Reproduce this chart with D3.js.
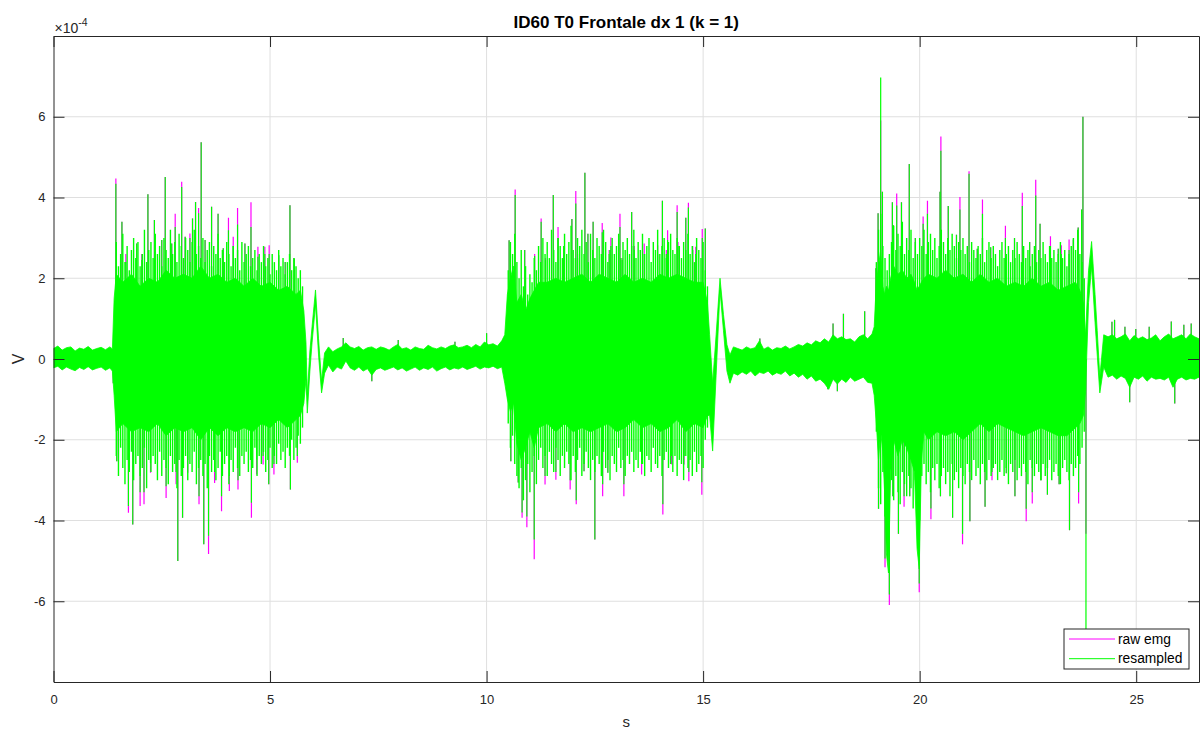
<!DOCTYPE html>
<html>
<head>
    <meta charset="utf-8">
    <title>ID60 T0 Frontale dx 1 (k = 1)</title>
    <script src="https://d3js.org/d3.v7.min.js"></script>
    <style>
        body { margin: 0; background: #fff; }
        svg text { font-family: "Liberation Sans", Arial, sans-serif; }
    </style>
</head>
<body>
    <svg id="chart" width="1202" height="731"></svg>

    <script>
        // axis ticks (x in s, y in units of 1e-4 V)
        const xTicks = [0, 5, 10, 15, 20, 25];
        const yTicks = [-6, -4, -2, 0, 2, 4, 6];

        // dense core of the signal (1e-4 V)
        const envTime = [
            0.0, 0.1, 0.2, 0.3, 0.4, 0.5, 0.6, 0.7, 0.8, 0.9, 1.0, 1.1, 1.2, 1.3, 1.36,
            1.40, 1.45, 1.6, 1.8, 2.0, 2.2, 2.4, 2.6, 2.8, 3.0, 3.2, 3.4, 3.6, 3.8, 4.0, 4.2, 4.4, 4.6, 4.8, 5.0, 5.2, 5.4, 5.6, 5.7, 5.78,
            5.83, 5.86, 5.92, 5.97, 6.05, 6.12, 6.19, 6.26, 6.35,
            6.45, 6.55, 6.65, 6.75, 6.85, 6.95, 7.05, 7.15, 7.25, 7.35, 7.45, 7.55, 7.65, 7.75, 7.85, 7.95, 8.05, 8.15, 8.25, 8.35,
            8.45, 8.55, 8.65, 8.75, 8.85, 8.95, 9.05, 9.15, 9.25, 9.35, 9.45, 9.55, 9.65, 9.75, 9.85, 9.95, 10.05, 10.15, 10.25, 10.35,
            10.42, 10.48, 10.55, 10.62, 10.7, 10.8, 10.9, 11.0, 11.1, 11.2, 11.4, 11.6, 11.8, 12.0, 12.2, 12.4, 12.6, 12.8, 13.0,
            13.2, 13.4, 13.6, 13.8, 14.0, 14.2, 14.4, 14.6, 14.8, 15.0, 15.1,
            15.15, 15.22, 15.3, 15.39, 15.47, 15.55, 15.62,
            15.7, 15.8, 15.9, 16.0, 16.1, 16.2, 16.3, 16.4, 16.5, 16.6, 16.7, 16.8, 16.9, 17.0, 17.1, 17.2, 17.3, 17.4, 17.5,
            17.6, 17.7, 17.8, 17.9, 18.0, 18.1, 18.2, 18.3, 18.4, 18.5, 18.6, 18.7, 18.8, 18.9,
            18.95, 19.0, 19.05, 19.1, 19.15, 19.19, 19.23, 19.28, 19.33, 19.4, 19.5, 19.6, 19.7, 19.8, 19.88, 19.94, 19.99, 20.04,
            20.1, 20.2, 20.4, 20.6, 20.8, 21.0, 21.2, 21.4, 21.6, 21.8, 22.0, 22.2, 22.4, 22.6, 22.8, 23.0, 23.2, 23.4, 23.6, 23.7, 23.78,
            23.83, 23.9, 23.97, 24.05, 24.1, 24.16, 24.25, 24.35,
            24.45, 24.55, 24.65, 24.75, 24.85, 24.95, 25.05, 25.15, 25.25, 25.35, 25.45, 25.55, 25.65, 25.75, 25.85, 25.95,
            26.05, 26.15, 26.25, 26.35, 26.45
        ];
        const envUpper = [
            0.26, 0.32, 0.22, 0.28, 0.30, 0.20, 0.27, 0.24, 0.31, 0.22, 0.26, 0.29, 0.23, 0.30, 0.25,
            1.5, 2.1, 1.9, 2.1, 1.8, 2.0, 1.9, 2.2, 2.0, 2.1, 2.0, 2.3, 2.0, 2.1, 1.9, 2.0, 1.8, 2.0, 1.8, 1.9, 1.7, 1.8, 1.6, 1.7, 1.2,
            0.4, -0.9, 0.2, 0.8, 1.71, 0.5, -0.55, 0.15, 0.3,
            0.18, 0.25, 0.30, 0.40, 0.30, 0.26, 0.31, 0.22, 0.28, 0.30, 0.24, 0.30, 0.27, 0.22, 0.30, 0.36, 0.25, 0.28, 0.22, 0.30,
            0.26, 0.24, 0.34, 0.28, 0.25, 0.30, 0.26, 0.32, 0.35, 0.28, 0.30, 0.34, 0.28, 0.36, 0.30, 0.42, 0.35, 0.38, 0.32, 0.45,
            0.6, 1.6, 2.0, 2.3, 1.4, 1.6, 1.2, 1.5, 1.7, 1.9, 1.9, 2.0, 1.9, 2.0, 2.1, 1.9, 2.1, 2.0, 1.9,
            2.1, 1.9, 2.0, 1.9, 2.1, 2.0, 2.1, 2.0, 1.9, 1.9, 1.4,
            0.6, -0.6, 0.6, 2.0, 1.1, 0.35, 0.1,
            0.30, 0.26, 0.22, 0.30, 0.25, 0.28, 0.45, 0.24, 0.30, 0.22, 0.28, 0.26, 0.32, 0.25, 0.30, 0.36, 0.32, 0.40, 0.35,
            0.45, 0.40, 0.50, 0.42, 0.60, 0.50, 0.55, 0.48, 0.50, 0.42, 0.55, 0.60, 0.50, 0.62,
            0.8, 1.9, 2.3, 2.7, 1.8, 1.6, 1.8, 1.7, 2.0, 2.3, 2.1, 2.2, 2.0, 2.1, 1.9, 1.7, 1.8, 1.9,
            2.0, 2.1, 2.0, 2.2, 2.0, 2.1, 1.9, 2.1, 1.9, 2.0, 1.8, 1.9, 1.8, 2.0, 1.8, 1.9, 1.7, 1.8, 1.9, 1.7, 1.4,
            0.6, 2.2, 2.91, 1.6, 0.7, -0.45, 0.6, 0.55,
            0.60, 0.50, 0.55, 0.62, 0.45, 0.58, 0.50, 0.55, 0.48, 0.52, 0.60, 0.45, 0.55, 0.62, 0.50, 0.55,
            0.60, 0.50, 0.62, 0.55, 0.50
        ];
        const envLower = [
            -0.22, -0.18, -0.27, -0.20, -0.25, -0.29, -0.21, -0.26, -0.19, -0.27, -0.23, -0.20, -0.28, -0.22, -0.30,
            -0.9, -1.8, -1.6, -1.8, -1.7, -1.8, -1.6, -1.9, -1.7, -1.8, -1.7, -2.0, -1.7, -1.9, -1.7, -1.8, -1.7, -1.8, -1.6, -1.7, -1.5, -1.7, -1.5, -1.4, -1.1,
            -0.5, -1.34, -0.3, 0.4, 1.35, 0.1, -0.84, -0.35, -0.15,
            -0.32, -0.20, -0.25, -0.05, -0.22, -0.28, -0.20, -0.30, -0.24, -0.40, -0.26, -0.22, -0.28, -0.24, -0.20, -0.27, -0.22, -0.30, -0.25, -0.20,
            -0.28, -0.22, -0.26, -0.20, -0.30, -0.24, -0.20, -0.27, -0.22, -0.25, -0.20, -0.26, -0.22, -0.18, -0.25, -0.20, -0.22, -0.18, -0.24, -0.20,
            -0.6, -1.0, -1.3, -1.1, -2.1, -2.5, -2.2, -1.8, -2.2, -1.7, -1.6, -1.8, -1.6, -1.8, -1.7, -1.8, -1.7, -1.6, -1.8,
            -1.7, -1.5, -1.7, -1.6, -1.8, -1.7, -1.5, -1.8, -1.6, -1.7, -1.4,
            -1.4, -2.28, -0.4, 1.7, 0.7, -0.3, -0.6,
            -0.35, -0.40, -0.32, -0.38, -0.30, -0.42, -0.33, -0.36, -0.30, -0.40, -0.34, -0.38, -0.30, -0.42, -0.35, -0.45, -0.38, -0.50, -0.42,
            -0.55, -0.50, -0.60, -0.75, -0.50, -0.62, -0.50, -0.58, -0.45, -0.55, -0.50, -0.45, -0.58, -0.60,
            -0.9, -1.6, -2.5, -1.8, -2.3, -3.3, -4.8, -5.3, -2.8, -2.0, -2.4, -2.0, -2.2, -2.5, -2.8, -4.7, -5.2, -2.5,
            -1.8, -2.0, -1.8, -1.9, -1.8, -2.0, -1.8, -1.6, -1.8, -1.6, -1.7, -1.8, -1.9, -1.8, -1.7, -1.8, -1.9, -1.9, -1.7, -1.6, -1.4,
            -0.8, 1.4, 2.3, 0.9, 0.1, -0.84, -0.2, -0.45,
            -0.40, -0.50, -0.42, -0.48, -0.70, -0.45, -0.50, -0.42, -0.55, -0.45, -0.50, -0.48, -0.52, -0.45, -0.70, -0.50,
            -0.45, -0.52, -0.48, -0.50, -0.45
        ];

        // reach of the dense lines around each burst, one value every 0.05 s
        const fringeStep = 0.05;
        const burstStart = [1.45, 10.5, 19.0];
        const fringe1Upper = [
            2.9, 2.3, 2.6, 3.1, 2.4, 2.8, 2.2, 2.7, 3.0, 2.5, 2.9, 2.3, 2.6, 3.2, 2.4, 2.7, 2.9, 2.5, 3.1, 2.6,
            2.8, 2.3, 3.0, 2.7, 2.5, 3.2, 2.6, 2.9, 2.4, 3.1, 2.8, 2.5, 3.0, 2.7, 2.4, 2.9, 3.2, 2.6, 2.8, 2.5,
            3.0, 2.4, 2.7, 2.9, 2.3, 2.8, 2.6, 3.1, 2.5, 2.7, 2.4, 2.9, 2.6, 2.3, 2.8, 2.5, 2.7, 2.2, 2.9, 2.4,
            2.6, 2.8, 2.3, 2.5, 2.7, 2.2, 2.6, 2.4, 2.8, 2.3, 2.5, 2.1, 2.6, 2.4, 2.2, 2.7, 2.3, 2.5, 2.1, 2.4,
            2.6, 2.2, 2.5, 2.3, 2.0, 2.2, 1.8
        ];
        const fringe1Lower = [
            -2.4, -2.9, -2.2, -2.7, -3.1, -2.5, -2.8, -2.3, -3.0, -2.6, -2.4, -2.9, -2.7, -2.2, -3.2, -2.5, -2.8, -2.4, -2.6, -3.0,
            -2.3, -2.9, -2.5, -2.7, -3.1, -2.4, -2.8, -2.6, -3.2, -2.5, -2.9, -2.7, -2.4, -3.0, -2.6, -2.8, -2.3, -3.1, -2.7, -2.5,
            -2.9, -2.6, -3.2, -2.4, -2.8, -2.5, -3.0, -2.7, -2.3, -2.9, -2.6, -2.4, -3.1, -2.5, -2.8, -2.2, -2.7, -2.9, -2.4, -2.6,
            -2.3, -2.8, -2.5, -2.7, -2.2, -2.9, -2.4, -2.6, -2.3, -2.8, -2.5, -2.2, -2.7, -2.4, -2.6, -2.1, -2.5, -2.3, -2.7, -2.2,
            -2.4, -2.0, -2.5, -2.2, -1.9, -2.1, -1.7
        ];
        const fringe2Upper = [
            2.2, 2.9, 2.6, 3.1, 2.4, 2.0, 2.7, 1.8, 2.3, 1.6, 2.1, 1.9, 2.5, 2.2, 2.8, 2.4, 3.0, 2.6, 2.9, 2.5,
            3.2, 2.7, 2.4, 3.0, 2.8, 2.5, 3.1, 2.6, 2.9, 3.3, 2.7, 2.5, 3.0, 2.8, 3.2, 2.6, 2.9, 2.4, 3.1, 2.7,
            2.5, 3.0, 2.8, 2.6, 3.2, 2.9, 2.4, 2.7, 3.0, 2.6, 2.8, 3.1, 2.5, 2.9, 2.7, 3.0, 2.6, 2.8, 3.2, 2.5,
            2.9, 2.7, 3.1, 2.6, 2.8, 3.0, 2.4, 2.9, 2.7, 3.2, 2.6, 2.8, 3.0, 2.5, 2.9, 3.1, 2.7, 2.6, 3.0, 2.8,
            2.5, 2.9, 2.7, 3.1, 2.6, 2.8, 2.4, 3.0, 2.7, 2.5, 2.9, 2.2, 1.8
        ];
        const fringe2Lower = [
            -1.6, -2.2, -1.9, -2.6, -2.9, -3.2, -2.7, -3.5, -3.0, -2.6, -3.3, -2.8, -2.4, -3.1, -2.5, -2.2, -2.7, -2.4, -2.9, -2.3,
            -2.6, -2.8, -2.2, -2.5, -2.9, -2.4, -2.7, -2.3, -2.6, -3.0, -2.4, -2.8, -2.5, -2.2, -2.9, -2.6, -2.3, -2.7, -3.0, -2.5,
            -2.8, -2.4, -2.6, -2.9, -2.3, -2.7, -2.5, -3.0, -2.4, -2.6, -2.8, -2.2, -2.7, -2.5, -2.9, -2.4, -2.6, -2.3, -2.8, -2.5,
            -2.7, -2.3, -2.6, -2.9, -2.4, -2.5, -2.8, -2.2, -2.6, -2.7, -2.4, -2.9, -2.5, -2.3, -2.7, -2.6, -2.8, -2.4, -2.9, -2.5,
            -2.6, -3.0, -2.4, -2.7, -2.5, -2.9, -2.3, -2.8, -2.6, -2.4, -2.7, -2.0, -1.7
        ];
        const fringe3Upper = [
            2.4, 3.2, 3.6, 2.8, 2.5, 2.2, 2.6, 2.9, 3.3, 2.7, 3.1, 2.8, 3.4, 2.6, 3.0, 2.7, 3.2, 2.5, 2.9, 2.6,
            3.0, 2.8, 3.2, 2.6, 2.9, 3.1, 2.7, 3.0, 2.5, 2.8, 3.2, 2.9, 2.6, 3.0, 2.7, 3.1, 2.8, 2.5, 2.9, 2.7,
            3.0, 2.6, 2.8, 2.4, 2.9, 2.7, 2.5, 2.8, 2.6, 3.0, 2.4, 2.7, 2.9, 2.5, 2.8, 2.6, 2.3, 2.7, 2.9, 2.5,
            2.6, 2.8, 2.4, 2.7, 2.5, 2.9, 2.6, 2.4, 2.8, 2.5, 2.7, 2.3, 2.6, 2.8, 2.4, 2.7, 2.5, 2.9, 2.6, 2.4,
            2.8, 2.5, 2.7, 2.4, 2.6, 2.9, 2.5, 2.7, 2.3, 2.6, 2.8, 3.0, 2.7, 3.2, 2.6, 2.4, 2.0
        ];
        const fringe3Lower = [
            -1.8, -3.2, -3.6, -2.8, -3.9, -4.2, -3.4, -3.0, -3.5, -2.9, -3.3, -3.6, -2.8, -3.1, -3.4, -2.9, -3.2, -3.7, -3.0, -3.4,
            -4.0, -2.9, -2.6, -3.1, -2.8, -3.3, -2.7, -3.0, -2.6, -3.2, -2.9, -2.7, -3.1, -2.8, -3.4, -2.6, -3.0, -2.8, -3.2, -2.7,
            -2.9, -3.1, -2.6, -2.8, -3.0, -2.5, -2.9, -2.7, -3.1, -2.6, -2.8, -3.0, -2.5, -2.9, -2.7, -2.6, -3.0, -2.8, -2.5, -2.9,
            -2.7, -3.1, -2.6, -2.8, -2.5, -3.0, -2.7, -2.9, -2.6, -2.8, -3.1, -2.5, -2.7, -2.9, -2.6, -2.8, -3.0, -2.6, -2.9, -2.7,
            -2.5, -3.0, -2.8, -2.6, -2.9, -3.1, -2.7, -2.5, -2.8, -3.0, -2.6, -2.9, -2.7, -2.4, -2.6, -2.2, -1.8
        ];

        // single spikes: time (s), raw emg peak, resampled peak (1e-4 V)
        const spikeTime = [
            1.38, 1.44, 1.46, 1.58, 1.67, 1.73, 1.83, 1.92, 2.00, 2.04, 2.09, 2.18, 2.24, 2.33, 2.50, 2.58, 2.60, 2.73, 2.81, 2.83,
            2.87, 2.96, 2.98, 3.04, 3.10, 3.15, 3.21, 3.28, 3.35, 3.36, 3.41, 3.47, 3.50, 3.58, 3.65, 3.72, 3.80, 3.88, 3.92, 4.04,
            4.06, 4.15, 4.25, 4.26, 4.42, 4.56, 4.57, 4.69, 4.72, 4.84, 4.88, 4.97, 4.98, 5.09, 5.20, 5.35, 5.46, 5.47, 5.56, 5.63,
            6.69, 7.35, 7.96, 9.27, 10.0,
            10.52, 10.56, 10.66, 10.73, 10.82, 10.88, 10.93, 11.10, 11.11, 11.26, 11.35, 11.36, 11.54, 11.60, 11.65, 11.78, 11.93,
            11.97, 12.06, 12.07, 12.10, 12.25, 12.27, 12.34, 12.46, 12.50, 12.67, 12.68, 12.80, 12.83, 12.87, 13.08, 13.13, 13.17,
            13.35, 13.41, 13.58, 13.64, 13.95, 14.06, 14.07, 14.15, 14.18, 14.27, 14.40, 14.42, 14.56, 14.60, 14.66, 14.67, 14.76,
            14.83, 14.97, 14.98, 15.05,
            16.31, 17.88, 18.00, 18.10, 18.24, 18.73,
            18.99, 19.04, 19.05, 19.10, 19.14, 19.20, 19.30, 19.37, 19.38, 19.39, 19.47, 19.51, 19.58, 19.64, 19.76, 19.77, 19.90,
            19.99, 20.08, 20.18, 20.26, 20.47, 20.48, 20.49, 20.66, 20.76, 20.85, 20.93, 20.99, 21.14, 21.16, 21.33, 21.45, 21.51,
            21.64, 21.67, 21.98, 22.00, 22.19, 22.20, 22.37, 22.46, 22.54, 22.60, 22.68, 22.78, 22.80, 22.95, 23.02, 23.20, 23.22,
            23.27, 23.45, 23.46, 23.55, 23.66, 23.67, 23.74, 23.77, 23.84,
            24.44, 24.50, 24.74, 24.85, 24.99, 25.30, 25.81, 25.89, 26.10, 26.27
        ];
        const spikeRaw = [
            -0.6, 4.47, -2.53, 3.40, 2.6, -3.81, -4.10, 2.86, -3.64, 2.6, -3.60, 4.08, -2.82, 3.44, 2.95, 4.51, -3.44, 2.86, 3.60, -3.1,
            -5.0, 4.39, -3.93, 3.03, -2.82, 3.11, 3.48, 3.89, 3.74, -3.6, 5.37, -4.59, 2.95, -4.83, 3.77, -3.07, 3.60, -3.77, 2.74, 3.50,
            -3.27, 3.03, 3.74, -3.23, 2.86, 3.88, -3.93, -2.86, 2.78, -2.61, 2.78, -3.1, 2.82, -2.86, 2.57, 2.4, 3.81, -3.23, 2.49, -2.57,
            0.52, -0.55, 0.47, 0.43, 0.64,
            2.94, -2.53, 4.20, -3.06, -3.93, 2.70, -4.17, -4.96, 2.6, 3.48, -3.11, 2.5, 4.06, -2.99, 3.27, 2.8, -3.23,
            3.47, 4.16, -3.6, 2.6, -2.78, 4.61, 3.1, 3.40, -4.47, 3.37, -3.4, -2.82, 2.7, 3.01, 3.60, 2.5, -3.4,
            3.64, 2.8, -2.86, 2.86, 2.82, 3.92, -3.85, 2.7, 3.19, -2.61, 3.81, 2.9, -2.61, 3.5, 3.87, -3.03, 2.8,
            2.78, -3.36, 3.22, 3.23,
            0.51, -0.75, 0.88, -0.8, 1.12, 1.18,
            2.25, 3.61, -3.71, 5.91, 4.14, -5.16, -6.09, 3.88, -3.4, 3.31, 4.10, -4.33, 3.88, -3.66, 4.83, -3.4, 3.0,
            -5.78, 3.53, 3.92, -3.97, 4.14, -3.4, 5.51, 3.79, -3.93, 3.08, 4.01, -4.59, 4.65, -4.02, 2.73, 3.95, -3.66,
            2.77, -3.0, 3.3, -2.83, 3.0, -3.4, 4.12, -4.02, 2.9, -3.58, 4.44, 3.35, -3.0, -3.36, 3.04, 2.73, -3.1,
            2.82, 2.96, -4.24, 2.96, 3.26, -3.58, 3.7, 6.0, -4.33,
            0.92, 0.97, 0.8, -1.07, 0.74, 0.8, 0.93, -1.1, 0.85, 0.88
        ];
        const spikeResampled = [
            -0.6, 4.34, -2.53, 3.40, 2.4, -3.64, -4.10, 2.86, -3.3, 2.45, -3.3, 4.08, -2.58, 3.44, 2.95, 4.51, -3.15, 2.86, 3.27, -2.8,
            -5.0, 4.26, -3.93, 3.03, -2.5, 3.0, 3.48, 3.89, 3.61, -3.4, 5.37, -4.59, 2.95, -4.38, 3.77, -2.8, 3.60, -3.4, 2.74, 3.19,
            -2.9, 2.8, 3.33, -3.0, 2.86, 3.27, -3.56, -2.49, 2.53, -2.4, 2.6, -3.1, 2.6, -2.6, 2.57, 2.4, 3.81, -3.23, 2.49, -2.4,
            0.52, -0.55, 0.47, 0.43, 0.64,
            2.94, -2.53, 4.06, -3.06, -3.8, 2.70, -3.9, -4.47, 2.55, 3.40, -2.9, 2.45, 4.06, -2.8, 3.0, 2.8, -3.0,
            3.47, 3.85, -3.5, 2.5, -2.78, 4.61, 3.1, 3.40, -4.47, 3.14, -3.1, -2.82, 2.6, 2.8, 3.27, 2.45, -3.1,
            3.64, 2.7, -2.6, 2.6, 2.6, 3.92, -3.6, 2.6, 2.95, -2.4, 3.64, 2.8, -2.4, 3.5, 3.75, -2.8, 2.7,
            2.6, -3.05, 3.0, 3.23,
            0.51, -0.75, 0.88, -0.8, 1.12, 1.18,
            2.25, 3.61, -3.71, 6.97, 4.14, -4.94, -5.83, 3.88, -3.4, 3.31, 3.8, -4.33, 3.88, -3.4, 4.83, -3.4, 3.0,
            -5.56, 3.35, 3.6, -3.7, 4.14, -3.4, 5.16, 3.79, -3.93, 3.08, 3.7, -4.33, 4.59, -4.02, 2.73, 3.6, -3.66,
            2.77, -2.8, 3.0, -2.83, 3.0, -3.4, 3.79, -3.71, 2.9, -3.3, 4.05, 3.35, -3.0, -3.36, 2.8, 2.73, -3.1,
            2.6, 2.7, -4.24, 2.96, 3.26, -3.3, 3.7, 6.0, -7.3,
            0.92, 0.97, 0.8, -1.07, 0.74, 0.8, 0.93, -1.1, 0.85, 0.88
        ];

        const seriesNames = ["raw emg", "resampled"];
        const seriesColors = ["#ff00ff", "#00ff00"];

        const svg = d3.select("svg#chart");
        const margin = { top: 36, right: 3, bottom: 49, left: 53.5 };
        const width = +svg.attr("width") - margin.left - margin.right;
        const height = +svg.attr("height") - margin.top - margin.bottom;
        const x = d3.scaleLinear().domain([0, 26.45]).range([0, width]);
        const y = d3.scaleLinear().domain([-8, 8]).range([height, 0]);
        const g = svg.append("g").attr("transform", "translate(" + margin.left + "," + margin.top + ")");
        const axisColor = "#262626";

        // grid
        g.append("g").selectAll("line")
            .data(xTicks.filter(d => d > 0))
            .join("line")
            .attr("x1", d => x(d)).attr("x2", d => x(d))
            .attr("y1", 0).attr("y2", height)
            .attr("stroke", "#dfdfdf");
        g.append("g").selectAll("line")
            .data(yTicks)
            .join("line")
            .attr("x1", 0).attr("x2", width)
            .attr("y1", d => y(d)).attr("y2", d => y(d))
            .attr("stroke", "#dfdfdf");

        svg.append("clipPath").attr("id", "plotClip")
            .append("rect").attr("width", width).attr("height", height);
        const plot = g.append("g").attr("clip-path", "url(#plotClip)");
        const idx = d3.range(spikeTime.length);

        // raw emg spikes (mostly hidden behind the resampled trace)
        plot.append("g").selectAll("line")
            .data(idx)
            .join("line")
            .attr("x1", i => x(spikeTime[i])).attr("x2", i => x(spikeTime[i]))
            .attr("y1", y(0)).attr("y2", i => y(spikeRaw[i]))
            .attr("stroke", seriesColors[0])
            .attr("stroke-width", 1.2);

        // resampled dense core
        const area = d3.area()
            .x(i => x(envTime[i]))
            .y0(i => y(envLower[i]))
            .y1(i => y(envUpper[i]));
        plot.append("path")
            .attr("d", area(d3.range(envTime.length)))
            .attr("fill", seriesColors[1])
            .attr("stroke", seriesColors[1])
            .attr("stroke-width", 0.8)
            .attr("stroke-linejoin", "round");

        // fringe of dense lines around each burst
        const fringes = [
            [fringe1Upper, fringe1Lower],
            [fringe2Upper, fringe2Lower],
            [fringe3Upper, fringe3Lower]
        ];
        fringes.forEach(([up, lo], b) => {
            plot.append("g").selectAll("line")
                .data(d3.range(up.length))
                .join("line")
                .attr("x1", i => x(burstStart[b] + i * fringeStep))
                .attr("x2", i => x(burstStart[b] + i * fringeStep))
                .attr("y1", i => y(lo[i]))
                .attr("y2", i => y(up[i]))
                .attr("stroke", seriesColors[1])
                .attr("stroke-width", 1.4);
        });

        plot.append("g").selectAll("line")
            .data(idx)
            .join("line")
            .attr("x1", i => x(spikeTime[i])).attr("x2", i => x(spikeTime[i]))
            .attr("y1", y(0)).attr("y2", i => y(spikeResampled[i]))
            .attr("stroke", seriesColors[1])
            .attr("stroke-width", 1.2);

        // axes, box style with inward ticks
        const fmt = d => String(d);
        g.append("g")
            .attr("class", "axis")
            .attr("transform", "translate(0," + height + ")")
            .call(d3.axisBottom(x).tickValues(xTicks).tickSizeInner(-11).tickSizeOuter(0).tickPadding(13).tickFormat(fmt));
        g.append("g")
            .attr("class", "axis")
            .call(d3.axisLeft(y).tickValues(yTicks).tickSizeInner(-11).tickSizeOuter(0).tickPadding(8).tickFormat(fmt));
        g.append("g")
            .attr("class", "axis")
            .call(d3.axisTop(x).tickValues(xTicks).tickSizeInner(-11).tickSizeOuter(0).tickFormat(""));
        g.append("g")
            .attr("class", "axis")
            .attr("transform", "translate(" + width + ",0)")
            .call(d3.axisRight(y).tickValues(yTicks).tickSizeInner(-11).tickSizeOuter(0).tickFormat(""));

        g.selectAll(".axis path, .axis line").attr("stroke", axisColor);
        g.selectAll(".axis text")
            .attr("fill", axisColor)
            .style("font-size", "13px")
            .style("font-family", "'Liberation Sans', Arial, sans-serif");

        // exponent note
        const expo = g.append("text")
            .attr("x", 1)
            .attr("y", -3)
            .attr("fill", axisColor)
            .style("font-size", "14px");
        expo.append("tspan").text("\u00d710");
        expo.append("tspan").attr("dy", -7).style("font-size", "10.5px").text("-4");

        // title and labels
        svg.append("text")
            .attr("x", margin.left + width / 2)
            .attr("y", 28)
            .attr("text-anchor", "middle")
            .attr("fill", "#000")
            .style("font-size", "17px")
            .style("font-weight", "bold")
            .text("ID60 T0 Frontale dx 1 (k = 1)");

        svg.append("text")
            .attr("x", margin.left + width / 2)
            .attr("y", 727)
            .attr("text-anchor", "middle")
            .attr("fill", axisColor)
            .style("font-size", "15px")
            .text("s");

        svg.append("text")
            .attr("transform", "translate(24," + (margin.top + y(0)) + ") rotate(-90)")
            .attr("text-anchor", "middle")
            .attr("fill", axisColor)
            .style("font-size", "16px")
            .text("V");

        // legend
        const legend = svg.append("g").attr("transform", "translate(1064,629)");
        legend.append("rect")
            .attr("width", 125)
            .attr("height", 40)
            .attr("fill", "#fff")
            .attr("stroke", axisColor);
        const item = legend.selectAll(".item")
            .data(seriesNames)
            .join("g")
            .attr("class", "item")
            .attr("transform", (d, i) => "translate(0," + (10 + i * 19.7) + ")");
        item.append("line")
            .attr("x1", 5).attr("x2", 51)
            .attr("stroke", (d, i) => seriesColors[i]);
        item.append("text")
            .attr("x", 54)
            .attr("y", 4.5)
            .attr("fill", "#000")
            .style("font-size", "13.8px")
            .text(d => d);
    </script>
</body>
</html>
